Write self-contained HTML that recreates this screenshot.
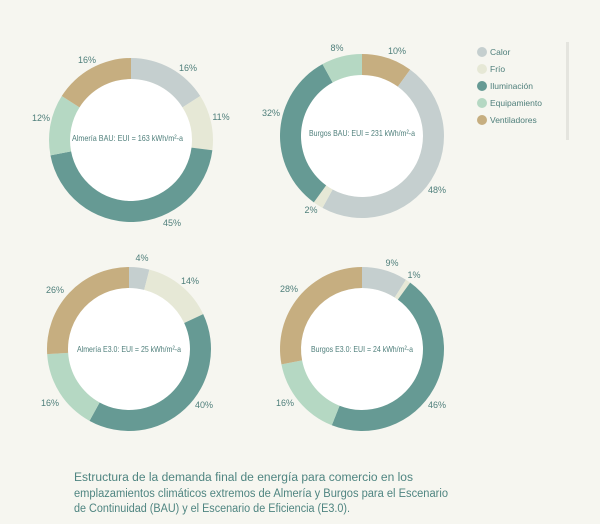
<!DOCTYPE html>
<html><head><meta charset="utf-8"><style>
html,body{margin:0;padding:0;background:#f6f6f0;}
svg{display:block;font-family:"Liberation Sans",sans-serif;}
</style></head><body>
<svg id="s" width="600" height="524" viewBox="0 0 600 524" xmlns="http://www.w3.org/2000/svg">
<rect width="600" height="524" fill="#f6f6f0"/>
<rect x="566" y="42" width="3" height="98" fill="#e4e4de"/>
<g id="rings"></g>
<g fill="#4f7f7b" font-size="9" text-anchor="middle">
<text x="87" y="63">16%</text><text x="188" y="71">16%</text><text x="221" y="120">11%</text><text x="41" y="121">12%</text><text x="172" y="226">45%</text>
<text x="337" y="51">8%</text><text x="397" y="54">10%</text><text x="271" y="116">32%</text><text x="437" y="193">48%</text><text x="311" y="213">2%</text>
<text x="142" y="261">4%</text><text x="190" y="284">14%</text><text x="55" y="293">26%</text><text x="50" y="406">16%</text><text x="204" y="408">40%</text>
<text x="392" y="266">9%</text><text x="414" y="278">1%</text><text x="289" y="292">28%</text><text x="285" y="406">16%</text><text x="437" y="408">46%</text>
</g>
<g fill="#4f7f7b" font-size="8.5">
<text x="72" y="141" textLength="111" lengthAdjust="spacingAndGlyphs">Almería BAU: EUI = 163 kWh/m²-a</text>
<text x="309" y="136" textLength="106" lengthAdjust="spacingAndGlyphs">Burgos BAU: EUI = 231 kWh/m²-a</text>
<text x="77" y="352" textLength="104" lengthAdjust="spacingAndGlyphs">Almería E3.0: EUI = 25 kWh/m²-a</text>
<text x="311" y="352" textLength="102" lengthAdjust="spacingAndGlyphs">Burgos E3.0: EUI = 24 kWh/m²-a</text>
</g>
<g font-size="8.5" fill="#4f7f7b">
<circle cx="482" cy="52" r="5" fill="#c5cfcf"/><text x="490" y="55">Calor</text>
<circle cx="482" cy="69" r="5" fill="#e6e8d6"/><text x="490" y="72">Frío</text>
<circle cx="482" cy="86" r="5" fill="#669a94"/><text x="490" y="89">Iluminación</text>
<circle cx="482" cy="103" r="5" fill="#b5d8c3"/><text x="490" y="106">Equipamiento</text>
<circle cx="482" cy="120" r="5" fill="#c6ae80"/><text x="490" y="123">Ventiladores</text>
</g>
<g font-size="11.5" fill="#4f8581">
<text x="74" y="481" textLength="339" lengthAdjust="spacingAndGlyphs">Estructura de la demanda final de energía para comercio en los</text>
<text x="74" y="497" textLength="374" lengthAdjust="spacingAndGlyphs">emplazamientos climáticos extremos de Almería y Burgos para el Escenario</text>
<text x="74" y="512" textLength="276" lengthAdjust="spacingAndGlyphs">de Continuidad (BAU) y el Escenario de Eficiencia (E3.0).</text>
</g>
</svg>
<script>
var C={c:"#c5cfcf",f:"#e6e8d6",i:"#669a94",e:"#b5d8c3",v:"#c6ae80"};
var charts=[
 [131,140,[["c",16],["f",11],["i",45],["e",12],["v",16]]],
 [362,136,[["v",10],["c",48],["f",2],["i",32],["e",8]]],
 [129,349,[["c",4],["f",14],["i",40],["e",16],["v",26]]],
 [362,349,[["c",9],["f",1],["i",46],["e",16],["v",28]]]];
var R=82,r=61,out="";
function pt(cx,cy,rad,a){return [cx+rad*Math.sin(a),cy-rad*Math.cos(a)];}
charts.forEach(function(ch){
 var cx=ch[0],cy=ch[1],a=0;
 out+='<circle cx="'+cx+'" cy="'+cy+'" r="'+r+'" fill="#fff"/>';
 ch[2].forEach(function(s){
  var b=a+s[1]/100*2*Math.PI,l=(b-a)>Math.PI?1:0;
  var p1=pt(cx,cy,R,a),p2=pt(cx,cy,R,b),p3=pt(cx,cy,r,b),p4=pt(cx,cy,r,a);
  out+='<path fill="'+C[s[0]]+'" d="M'+p1+' A'+R+','+R+' 0 '+l+' 1 '+p2+' L'+p3+' A'+r+','+r+' 0 '+l+' 0 '+p4+'Z"/>';
  a=b;});
});
document.getElementById("rings").innerHTML=out;
</script>
</body></html>
